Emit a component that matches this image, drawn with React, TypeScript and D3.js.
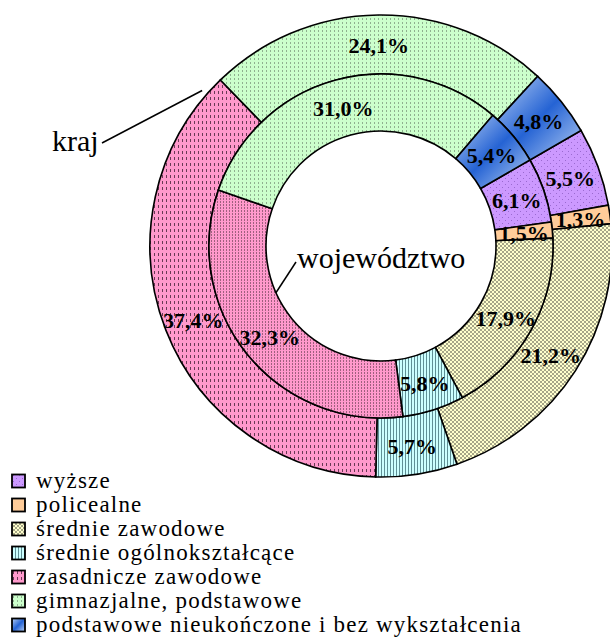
import React from "react";
import * as d3 from "d3";

// kategorie wykształcenia (kolejność jak w legendzie i na wykresie)
const categories = [
  "wyższe",
  "policealne",
  "średnie zawodowe",
  "średnie ogólnokształcące",
  "zasadnicze zawodowe",
  "gimnazjalne, podstawowe",
  "podstawowe nieukończone i bez wykształcenia",
];
// pierścień zewnętrzny - kraj
const krajValues = [5.5, 1.3, 21.2, 5.7, 37.4, 24.1, 4.8];
// pierścień wewnętrzny - województwo
const wojValues = [6.1, 1.5, 17.9, 5.8, 32.3, 31.0, 5.4];
const ringNames = ["kraj", "województwo"];

const fillIds = ["p-wyz", "p-pol", "p-szaw", "p-sog", "p-zas", "p-gim", "g-pod"];
const innerFillIds = ["p-wyz", "p-pol", "p-szaw", "p-sog", "p-zas2", "p-gim", "g-pod"];

const W = 610;
const H = 637;
const cx = 381;
const cy = 246;
const rOuter = 231;
const rMid = 172;
const rHole = 115;
const startDeg = 60;

const serif = "Liberation Serif, DejaVu Serif, serif";

const fmt = (v: number) => v.toFixed(1).replace(".", ",") + "%";

const polar = (r: number, a: number): [number, number] => [
  cx + r * Math.sin(a),
  cy - r * Math.cos(a),
];

export default function App() {
  const start = (startDeg * Math.PI) / 180;
  const pie = d3
    .pie<number>()
    .sort(null)
    .value((d) => d)
    .startAngle(start)
    .endAngle(start + 2 * Math.PI);

  const outerArc = d3.arc<d3.PieArcDatum<number>>().innerRadius(rMid).outerRadius(rOuter);
  const innerArc = d3.arc<d3.PieArcDatum<number>>().innerRadius(rHole).outerRadius(rMid);

  const outerSlices = pie(krajValues);
  const innerSlices = pie(wojValues);

  const legendY = d3.scalePoint<string>().domain(categories).range([481, 625]);

  // linie odniesienia do podpisów pierścieni
  const krajEnd = polar(rOuter + 6, (311 * Math.PI) / 180);
  const wojEnd = polar(rHole, (246 * Math.PI) / 180);

  return (
    <svg
      width={W}
      height={H}
      style={{ position: "absolute", left: 0, top: 0, background: "#fff" }}
    >
      <defs>
        <pattern id="p-wyz" width="6" height="6" patternUnits="userSpaceOnUse">
          <rect width="6" height="6" fill="#CC99FF" />
          <rect x="1" y="1" width="1" height="1" fill="#9a6ad0" />
          <rect x="4" y="4" width="1" height="1" fill="#9a6ad0" />
        </pattern>
        <pattern id="p-pol" width="4" height="4" patternUnits="userSpaceOnUse">
          <rect width="4" height="4" fill="#FFCC99" />
        </pattern>
        <pattern id="p-szaw" width="4" height="4" patternUnits="userSpaceOnUse">
          <rect width="4" height="4" fill="#FFFFCC" />
          <path d="M0,0L4,4M4,0L0,4" stroke="#9c9c80" strokeWidth="0.9" />
        </pattern>
        <pattern id="p-sog" width="3" height="3" patternUnits="userSpaceOnUse">
          <rect width="3" height="3" fill="#CCFFFF" />
          <rect x="0" y="0" width="1" height="3" fill="#5f8f95" />
        </pattern>
        <pattern id="p-zas" width="4" height="6" patternUnits="userSpaceOnUse">
          <rect width="4" height="6" fill="#FF99CC" />
          <rect x="1" y="1" width="1" height="3" fill="#6a3a55" />
        </pattern>
        <pattern id="p-zas2" width="3" height="3" patternUnits="userSpaceOnUse">
          <rect width="3" height="3" fill="#FF99CC" />
          <rect x="1" y="0" width="1" height="2" fill="#a0607f" />
        </pattern>
        <pattern id="p-gim" width="4" height="4" patternUnits="userSpaceOnUse">
          <rect width="4" height="4" fill="#CCFFCC" />
          <rect x="1" y="0" width="1" height="2" fill="#8fb08f" />
        </pattern>
        <linearGradient id="g-pod" x1="0" y1="0" x2="1" y2="1">
          <stop offset="0" stopColor="#b8d0f4" />
          <stop offset="0.5" stopColor="#2563d4" />
          <stop offset="1" stopColor="#b8d0f4" />
        </linearGradient>
      </defs>

      <g>
        {outerSlices.map((s, i) => (
          <path
            key={"o" + i}
            d={outerArc(s) || ""}
            transform={`translate(${cx},${cy})`}
            fill={`url(#${fillIds[i]})`}
            stroke="#000"
            strokeWidth={1.6}
          />
        ))}
        {innerSlices.map((s, i) => (
          <path
            key={"i" + i}
            d={innerArc(s) || ""}
            transform={`translate(${cx},${cy})`}
            fill={`url(#${innerFillIds[i]})`}
            stroke="#000"
            strokeWidth={1.6}
          />
        ))}
      </g>

      <g style={{ fontFamily: serif, fontWeight: "bold", fontSize: 22 }} fill="#000" textAnchor="middle">
        {outerSlices.map((s, i) => {
          const [x, y] = outerArc.centroid(s);
          return (
            <text key={"lo" + i} x={cx + x} y={cy + y} dy="0.4em">
              {fmt(krajValues[i])}
            </text>
          );
        })}
        {innerSlices.map((s, i) => {
          const [x, y] = innerArc.centroid(s);
          return (
            <text key={"li" + i} x={cx + x} y={cy + y} dy="0.4em">
              {fmt(wojValues[i])}
            </text>
          );
        })}
      </g>

      <g style={{ fontFamily: serif, fontSize: 30 }} fill="#000">
        <text x={52} y={151}>{ringNames[0]}</text>
        <line x1={102} y1={143} x2={krajEnd[0]} y2={krajEnd[1]} stroke="#000" strokeWidth={1.5} />
        <text x={297} y={268}>{ringNames[1]}</text>
        <line x1={296} y1={262} x2={wojEnd[0]} y2={wojEnd[1]} stroke="#000" strokeWidth={1.5} />
      </g>

      <g style={{ fontFamily: serif, fontSize: 23, letterSpacing: 1.2 }} fill="#000">
        {categories.map((c, i) => {
          const y = legendY(c) || 0;
          return (
            <g key={"lg" + i}>
              <rect
                x={12}
                y={y - 6.5}
                width={13}
                height={13}
                fill={`url(#${fillIds[i]})`}
                stroke="#000"
                strokeWidth={1.8}
              />
              <text x={36} y={y} dy="0.3em">
                {c}
              </text>
            </g>
          );
        })}
      </g>
    </svg>
  );
}
